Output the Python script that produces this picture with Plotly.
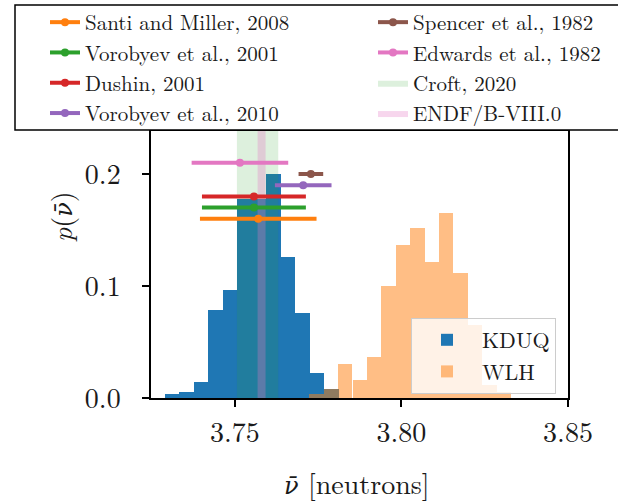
import plotly.graph_objects as go

# ---- posterior histograms of nu-bar (probability per bin) ----
kduq_centers = [3.7312, 3.7355, 3.7399, 3.7442, 3.7486, 3.7529, 3.7573,
                3.7616, 3.7660, 3.7703, 3.7747, 3.7790]
kduq_width = 0.00435
kduq_prob = [0.004, 0.005, 0.014, 0.079, 0.096, 0.178, 0.178,
             0.200, 0.126, 0.076, 0.022, 0.008]

wlh_centers = [3.7745, 3.7788, 3.7831, 3.7875, 3.7918, 3.7961, 3.8004,
               3.8048, 3.8091, 3.8134, 3.8177, 3.8221, 3.8264, 3.8307]
wlh_width = 0.00432
wlh_prob = [0.004, 0.008, 0.030, 0.016, 0.037, 0.100, 0.137,
            0.152, 0.121, 0.165, 0.112, 0.065, 0.012, 0.005]

# ---- measurements (value, 1-sigma, plotting level) ----
exp_names = ["Santi and Miller, 2008", "Vorobyev et al., 2001", "Dushin, 2001",
             "Vorobyev et al., 2010", "Spencer et al., 1982", "Edwards et al., 1982"]
exp_nu = [3.7570, 3.7557, 3.7557, 3.7705, 3.7728, 3.7515]
exp_err = [0.0175, 0.0156, 0.0156, 0.0085, 0.0037, 0.0145]
exp_level = [0.16, 0.17, 0.18, 0.19, 0.20, 0.21]
exp_colors = ["#ff7f0e", "#2ca02c", "#d62728", "#9467bd", "#8c564b", "#e377c2"]
exp_legend = ["legend", "legend", "legend", "legend", "legend3", "legend3"]

# ---- evaluations shown as vertical bands ----
band_names = ["Croft, 2020", "ENDF/B-VIII.0"]
band_nu = [3.7568, 3.7580]
band_err = [0.0062, 0.0012]
band_colors = ["rgba(44,160,44,0.16)", "rgba(227,119,194,0.3)"]

x_ticks = [3.75, 3.80, 3.85]
y_ticks = [0.0, 0.1, 0.2]
x_range = [3.7248, 3.85]
y_range = [0.0, 0.2384]

W, H = 618, 501
ML, MR, MT, MB = 151, 50, 131, 103
PW, PH = W - ML - MR, H - MT - MB


def px_x(p):
    return (p - ML) / PW


def px_y(p):
    return (H - MB - p) / PH


SERIF = "Latin Modern Roman, Liberation Serif, serif"
INK = "#1a1a1a"
NUBAR = "<span style=\"font-family:'DejaVu Serif';font-size:24px\"><i>ν̄</i></span>"

fig = go.Figure()

fig.add_trace(go.Bar(x=kduq_centers, y=kduq_prob, width=kduq_width, name="KDUQ",
                     marker=dict(color="#1f77b4", line=dict(width=0)),
                     legend="legend2"))
fig.add_trace(go.Bar(x=wlh_centers, y=wlh_prob, width=wlh_width, name="WLH",
                     marker=dict(color="#ff7f0e", line=dict(width=0)), opacity=0.5,
                     legend="legend2"))

for i, (name, nu, err, col) in enumerate(zip(band_names, band_nu, band_err, band_colors)):
    lo, hi = nu - err, nu + err
    fig.add_trace(go.Scatter(
        x=[lo, hi, hi, lo, lo], y=[y_range[0], y_range[0], y_range[1], y_range[1], y_range[0]],
        mode="lines", fill="toself", fillcolor=col, line=dict(width=0),
        name=name, legend="legend3", legendrank=1010 + i, hoverinfo="skip"))

for i, (name, nu, err, lev, col, lg) in enumerate(
        zip(exp_names, exp_nu, exp_err, exp_level, exp_colors, exp_legend)):
    fig.add_trace(go.Scatter(
        x=[nu], y=[lev], mode="lines+markers", name=name, legend=lg,
        legendrank=1000 + i,
        line=dict(color=col, width=4),
        marker=dict(color=col, size=8, symbol="circle"),
        error_x=dict(type="data", array=[err], color=col, thickness=4, width=0)))

axis_common = dict(showline=True, linecolor="black", linewidth=1.5, mirror=True,
                   ticks="outside", ticklen=7, tickwidth=1.5, tickcolor="black",
                   showgrid=False, zeroline=False,
                   tickfont=dict(family=SERIF, size=28, color=INK))

fig.update_xaxes(range=x_range, tickvals=x_ticks,
                 ticktext=[f"{v:.2f}" for v in x_ticks], ticklabelstandoff=2,
                 **axis_common)
fig.update_yaxes(range=y_range, tickvals=y_ticks,
                 ticktext=[f"{v:.1f}" for v in y_ticks], ticklabelstandoff=16,
                 **axis_common)

# framed box holding the two-column reference legend
fig.add_shape(type="rect", xref="paper", yref="paper",
              x0=px_x(15), x1=px_x(650), y0=px_y(130), y1=px_y(5),
              line=dict(color="black", width=1.5), fillcolor="white", layer="above")

legend_font = dict(family=SERIF, size=21, color=INK)
fig.update_layout(
    width=W, height=H,
    font=dict(family=SERIF, color=INK),
    margin=dict(l=ML, r=MR, t=MT, b=MB, autoexpand=False),
    plot_bgcolor="white", paper_bgcolor="white",
    barmode="overlay", bargap=0,
    legend=dict(x=px_x(45), y=px_y(2), xanchor="left", yanchor="top",
                bgcolor="rgba(0,0,0,0)", borderwidth=0, font=legend_font,
                traceorder="normal"),
    legend3=dict(x=px_x(373), y=px_y(2), xanchor="left", yanchor="top",
                 bgcolor="rgba(0,0,0,0)", borderwidth=0, font=legend_font,
                 traceorder="normal"),
    legend2=dict(x=px_x(556), y=px_y(318), xanchor="right", yanchor="top",
                 bgcolor="rgba(255,255,255,0.8)", bordercolor="#cccccc", borderwidth=1,
                 itemwidth=60,
                 font=dict(family=SERIF, size=22, color=INK), traceorder="normal"),
    annotations=[
        dict(text=f"{NUBAR} [neutrons]", xref="paper", yref="paper",
             x=px_x(357), y=px_y(482), xanchor="center", yanchor="middle",
             showarrow=False, font=dict(family=SERIF, size=28, color=INK)),
        dict(text=f"<i>p</i>({NUBAR})", xref="paper", yref="paper",
             x=px_x(60), y=px_y(217), xanchor="center", yanchor="middle",
             textangle=-90, showarrow=False, font=dict(family=SERIF, size=28, color=INK)),
    ],
)

fig.write_html("out.html")
